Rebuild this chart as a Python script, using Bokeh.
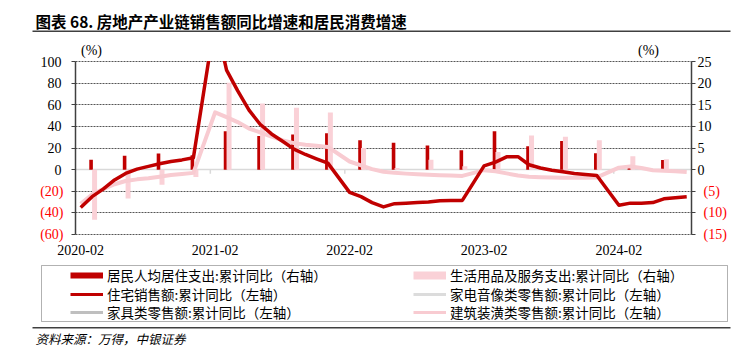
import pandas as pd
from bokeh.plotting import figure
from bokeh.models import (Range1d, LinearAxis, DatetimeAxis, FixedTicker, DatetimeTickFormatter, Grid,
                          Label, ColumnDataSource, Legend, LegendItem, BoxAnnotation)
from bokeh.embed import file_html
from bokeh.resources import INLINE
from bokeh.transform import dodge

# ---------------- data ----------------
months = [f"{y}-{m:02d}" for y in range(2020, 2024) for m in range(2, 13)] + \
         [f"2024-{m:02d}" for m in range(2, 9)]
housing_sales = [  # 住宅销售额:累计同比 (left axis)
    -35, -25, -18, -9.5, -3.5, 0.5, 3, 5.5, 7.5, 9, 11,
    139, 92, 73, 55, 42, 33, 26, 19, 14, 10, 6,
    -21, -25, -30.5, -34.5, -31.5, -31, -30.5, -30, -28.8, -28.5, -28.5,
    3.5, 7, 11.8, 12, 4.5, 1.5, -0.5, -2, -3.5, -4.5, -5.5,
    -33, -31, -31, -30.5, -27, -26, -25]
building_deco = [  # 建筑装潢类零售额:累计同比 (left axis)
    -31.5, -23, -18, -13.5, -10.5, -9, -8, -6.5, -5, -4, -3,
    53, 48.5, 44, 38, 34.5, 30.5, 27, 24.5, 23, 22, 21,
    7.5, 4, 0.5, -2, -3, -3.7, -4.2, -4.7, -5.2, -5.5, -5.8,
    -0.5, -1.5, -3.5, -5.5, -6.5, -7, -7.3, -7.5, -7.5, -7.4, -7.2,
    1.8, 3, 1.5, -0.5, -1, -1.5, -2.2]
quarters = [f"{y}-{m:02d}" for y in range(2020, 2024) for m in (3, 6, 9, 12)] + ["2024-03", "2024-06"]
housing_exp = [2.3, 3.2, 3.7, 3.3, 8.9, 7.8, 8.1, 8.4, 6.8, 6.2, 5.6, 4.5,
               8.9, 5.4, 6.6, 3.8, 0.4, 2.2]          # 居民人均居住支出 (right axis)
daily_goods = [-11.6, -6.7, -3.5, -1.7, 20.1, 15.3, 14.3, 13.2, 5.0, 0.4, 2.3, 0.8,
               4.1, 7.9, 7.6, 6.8, 3.1, 2.4]          # 生活用品及服务支出 (right axis)
x_labels = ["2020-02", "2021-02", "2022-02", "2023-02", "2024-02"]
left_ticks = [-60, -40, -20, 0, 20, 40, 60, 80, 100]
right_ticks = [-15, -10, -5, 0, 5, 10, 15, 20, 25]

title = "图表 68. 房地产产业链销售额同比增速和居民消费增速"
source_note = "资料来源：万得，中银证券"
legend_left = ["居民人均居住支出:累计同比（右轴）", "住宅销售额:累计同比（左轴）", "家具类零售额:累计同比（左轴）"]
legend_right = ["生活用品及服务支出:累计同比（右轴）", "家电音像类零售额:累计同比（左轴）", "建筑装潢类零售额:累计同比（左轴）"]

# ---------------- styles / geometry ----------------
RED = "#C00000"
PINK_BAR = "#FAD1D7"
PINK_LINE = "#F8CBD1"
NEG_RED = "#FF0000"
AX = "#404040"
ZERO = "#D9D9D9"
W, H = 736, 351
PL, PR, PT, PB = 75, 691, 61, 234      # plot-area box on the canvas

def month_end(s):
    return pd.to_datetime(s) + pd.offsets.MonthEnd(0)

def ms(t):
    return t.value / 1e6

m_dates = [month_end(s) for s in months]
q_dates = [month_end(s) for s in quarters]
lab_dates = [month_end(s) for s in x_labels]

x_start = pd.Timestamp("2020-02-15")
x_end = pd.Timestamp("2024-09-13")
ms_per_px = (ms(x_end) - ms(x_start)) / (PR - PL)
X_lo = pd.Timestamp(ms(x_start) - PL * ms_per_px, unit="ms")
X_hi = pd.Timestamp(ms(x_end) + (W - PR) * ms_per_px, unit="ms")
ky = (left_ticks[-1] - left_ticks[0]) / (PB - PT)
kr = (right_ticks[-1] - right_ticks[0]) / (PB - PT)

p = figure(width=W, height=H, x_axis_type="datetime",
           x_range=Range1d(X_lo, X_hi),
           y_range=Range1d(left_ticks[0] - (H - PB) * ky, left_ticks[-1] + PT * ky),
           x_axis_location=None, y_axis_location=None,
           output_backend="svg", toolbar_location=None, title=None,
           min_border_left=0, min_border_right=0, min_border_top=0, min_border_bottom=0)
p.extra_y_ranges = {"right": Range1d(right_ticks[0] - (H - PB) * kr, right_ticks[-1] + PT * kr)}
p.outline_line_color = None
p.background_fill_color = "white"
p.border_fill_color = "white"
for g in p.grid:
    g.visible = False

# dotted grid limited to the plot area
grid_ticks = [v for v in left_ticks if v != 0]
try:
    p.add_layout(Grid(dimension=1, ticker=FixedTicker(ticks=grid_ticks),
                      cross_bounds=(ms(x_start), ms(x_end)), grid_line_color="#555555",
                      grid_line_dash="2 1", grid_line_width=1))
except Exception:
    p.segment(x0=[x_start] * len(grid_ticks), x1=[x_end] * len(grid_ticks), y0=grid_ticks, y1=grid_ticks,
              line_color="#555555", line_dash="2 1", line_width=1, level="underlay")

def style_axis(a, color, standoff, line=True):
    a.axis_line_color = AX if line else None
    a.axis_line_width = 1.5
    a.major_tick_line_color = AX
    a.major_tick_out = 4
    a.major_tick_in = 0
    a.minor_tick_line_color = None
    a.major_label_standoff = standoff
    a.major_label_text_font = "Liberation Serif"
    a.major_label_text_font_size = "14px"
    a.major_label_text_color = color

def paren(v):
    return f"({-v})"

# left axis: positives black, negatives red in parentheses
pos_l = [v for v in left_ticks if v >= 0]
neg_l = [v for v in left_ticks if v < 0]
a1 = LinearAxis(ticker=FixedTicker(ticks=pos_l), fixed_location=ms(x_start),
                bounds=(left_ticks[0], left_ticks[-1]))
style_axis(a1, "black", 10)
p.add_layout(a1, "left")
a2 = LinearAxis(ticker=FixedTicker(ticks=neg_l), fixed_location=ms(x_start),
                major_label_overrides={v: paren(v) for v in neg_l})
style_axis(a2, NEG_RED, 8, line=False)
p.add_layout(a2, "left")

# right axis
pos_r = [v for v in right_ticks if v >= 0]
neg_r = [v for v in right_ticks if v < 0]
a3 = LinearAxis(y_range_name="right", ticker=FixedTicker(ticks=pos_r), fixed_location=ms(x_end),
                bounds=(right_ticks[0], right_ticks[-1]))
style_axis(a3, "black", 2)
p.add_layout(a3, "right")
a4 = LinearAxis(y_range_name="right", ticker=FixedTicker(ticks=neg_r), fixed_location=ms(x_end),
                major_label_overrides={v: paren(v) for v in neg_r})
style_axis(a4, NEG_RED, 8, line=False)
p.add_layout(a4, "right")

# zero (category) axis line, light grey, under the data
za = DatetimeAxis(fixed_location=0, bounds=(ms(x_start), ms(x_end)),
                  ticker=FixedTicker(ticks=[]), level="underlay")
za.axis_line_color = ZERO
za.axis_line_width = 1.5
za.major_tick_line_color = None
za.minor_tick_line_color = None
p.add_layout(za, "below")
zero_ticks = [pd.Timestamp(f"{y}-02-15") for y in range(2021, 2025)]
p.segment(x0=zero_ticks, x1=zero_ticks, y0=[0] * len(zero_ticks), y1=[-4 * ky] * len(zero_ticks),
          line_color=ZERO, line_width=1.5, level="underlay")

# date labels along the bottom of the plot area
fmt = "%Y-%m"
xa = DatetimeAxis(fixed_location=left_ticks[0], ticker=FixedTicker(ticks=[ms(d) for d in lab_dates]),
                  formatter=DatetimeTickFormatter(days=fmt, months=fmt, years=fmt, hours=fmt, hourmin=fmt,
                                                  minutes=fmt, minsec=fmt, seconds=fmt,
                                                  milliseconds=fmt, microseconds=fmt))
xa.axis_line_color = None
xa.major_tick_line_color = None
xa.minor_tick_line_color = None
xa.major_label_standoff = 4
xa.major_label_text_font = "Liberation Serif"
xa.major_label_text_font_size = "14px"
xa.major_label_text_color = "black"
p.add_layout(xa, "below")

# bars
bsrc = ColumnDataSource(dict(date=q_dates, exp=housing_exp, goods=daily_goods))
p.vbar(x=dodge("date", -1.0 * ms_per_px, range=p.x_range), top="exp", bottom=0,
       width=3.6 * ms_per_px, source=bsrc, y_range_name="right",
       fill_color=RED, line_color=None)
p.vbar(x=dodge("date", 2.5 * ms_per_px, range=p.x_range), top="goods", bottom=0,
       width=5.0 * ms_per_px, source=bsrc, y_range_name="right",
       fill_color=PINK_BAR, line_color=None)

# lines
lsrc = ColumnDataSource(dict(date=m_dates, sales=housing_sales, deco=building_deco))
p.line("date", "deco", source=lsrc, line_color=PINK_LINE, line_width=4, line_join="round")
p.line("date", "sales", source=lsrc, line_color=RED, line_width=3.5, line_join="round")

def cbox(left, right, top, bottom, **kw):
    return BoxAnnotation(left=left, right=right, top=top, bottom=bottom,
                         left_units="canvas", right_units="canvas",
                         top_units="canvas", bottom_units="canvas", **kw)

# mask anything that runs above the plot area (values beyond the axis maximum)
p.add_layout(cbox(PL - 3, PR + 3, 0, PT - 0.6, fill_color="white", fill_alpha=1, line_color=None))

# unit labels
for ux in (91, 648):
    p.add_layout(Label(x=ux, y=50, x_units="canvas", y_units="canvas", text="(%)",
                       text_align="center", text_baseline="middle",
                       text_font="Liberation Serif", text_font_size="14px", text_color="black"))

# title, rules, source
p.add_layout(Label(x=35, y=20, x_units="canvas", y_units="canvas", text=title,
                   text_baseline="middle", text_font="Noto Sans CJK SC", text_font_style="bold",
                   text_font_size="15.5px", text_color="black"))
p.add_layout(cbox(32, 730, 30, 31.5, fill_color=AX, fill_alpha=1, line_color=None))
p.add_layout(cbox(32, 730, 326.5, 328, fill_color=AX, fill_alpha=1, line_color=None))
p.add_layout(Label(x=35, y=338, x_units="canvas", y_units="canvas", text=source_note,
                   text_baseline="middle", text_font="Noto Sans CJK SC", text_font_style="italic",
                   text_font_size="12.5px", text_color="black"))

# legend box
p.add_layout(cbox(41, 727, 265, 321, fill_color="white", fill_alpha=1, line_color="black", line_width=1))

# legend proxies (NaN values: nothing drawn in the plot)
nan = float("nan")
def proxy(color, width):
    return p.line(x=[x_start, x_end], y=[nan, nan], line_color=color, line_width=width)

proxies_left = [proxy(RED, 6), proxy(RED, 3), proxy("#BFBFBF", 3)]
proxies_right = [proxy(PINK_BAR, 8), proxy("#DCDCDC", 3), proxy(PINK_LINE, 3)]

row_centers = [275, 293.5, 312]
for col_x, labels, rends in ((70, legend_left, proxies_left), (413, legend_right, proxies_right)):
    for cy, t, r in zip(row_centers, labels, rends):
        p.add_layout(Legend(items=[LegendItem(label=t, renderers=[r])],
                            location=(col_x, H - (cy + 10)), orientation="vertical",
                            glyph_width=33, glyph_height=20, label_height=20, label_standoff=4,
                            spacing=0, padding=0, margin=0,
                            border_line_color=None, background_fill_alpha=0,
                            label_text_font="Noto Sans CJK SC", label_text_font_size="13.5px",
                            label_text_color="black"))

open("out.html", "w").write(file_html(p, INLINE))
